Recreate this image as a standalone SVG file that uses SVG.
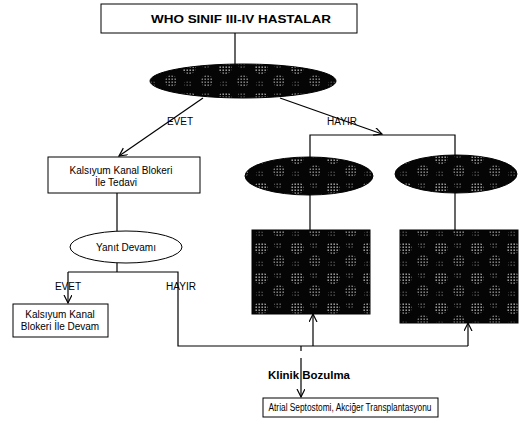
<svg xmlns="http://www.w3.org/2000/svg" width="523" height="440" viewBox="0 0 523 440">
<style>
.bx{fill:#fff;stroke:#000;stroke-width:1}
.ln{fill:none;stroke:#000;stroke-width:1.2}
.dk{fill:url(#blotch);stroke:#000;stroke-width:1}
text{font-family:"Liberation Sans",Arial,sans-serif;fill:#000}
.t{font-size:10px;text-anchor:middle}
.b{font-weight:bold;text-anchor:middle}
</style>
<defs>
<pattern id="dots" width="3" height="3" patternUnits="userSpaceOnUse">
<rect x="0.5" y="0.5" width="1.4" height="1.4" fill="#e6e6e6"/>
</pattern>
<pattern id="blotch" width="36" height="30" patternUnits="userSpaceOnUse">
<rect width="36" height="30" fill="#050505"/>
<ellipse cx="9" cy="8" rx="7" ry="6" fill="url(#dots)" opacity="0.8"/>
<ellipse cx="27" cy="21" rx="6" ry="6" fill="url(#dots)" opacity="0.65"/>
<ellipse cx="26" cy="5" rx="4" ry="3" fill="url(#dots)" opacity="0.45"/>
<ellipse cx="8" cy="24" rx="4" ry="3" fill="url(#dots)" opacity="0.35"/>
</pattern>
<marker id="ar" markerWidth="10" markerHeight="10" refX="8" refY="4" orient="auto" markerUnits="userSpaceOnUse">
<path d="M0,0 L8,4 L0,8" fill="none" stroke="#000" stroke-width="1.2"/>
</marker>
</defs>

<g id="connectors">
<line class="ln" x1="235" y1="33" x2="235" y2="64"/>
<line class="ln" x1="203" y1="98" x2="119" y2="156" marker-end="url(#ar)"/>
<line class="ln" x1="280" y1="98" x2="382" y2="134" marker-end="url(#ar)"/>
<polyline class="ln" points="310,158 310,135 455,135 455,156"/>
<line class="ln" x1="310" y1="195" x2="310" y2="230"/>
<line class="ln" x1="455" y1="193" x2="455" y2="230"/>
<line class="ln" x1="117" y1="193" x2="117" y2="231"/>
<line class="ln" x1="117" y1="263" x2="117" y2="272"/>
<polyline class="ln" points="68,272 178,272 178,346 468,346"/>
<line class="ln" x1="68" y1="272" x2="68" y2="303" marker-end="url(#ar)"/>
<line class="ln" x1="313" y1="346" x2="313" y2="314" marker-end="url(#ar)"/>
<line class="ln" x1="468" y1="346" x2="468" y2="323" marker-end="url(#ar)"/>
<line class="ln" x1="301" y1="346" x2="301" y2="351"/>
<line class="ln" x1="301" y1="358" x2="301" y2="397" marker-end="url(#ar)"/>
<text x="180" y="125" class="t" font-size="11">EVET</text>
<text x="342" y="125" class="t" font-size="11">HAYIR</text>
<text x="68" y="290" class="t" font-size="11">EVET</text>
<text x="181" y="290" class="t" font-size="11">HAYIR</text>
<text x="309" y="379" class="b" font-size="10" textLength="82" lengthAdjust="spacingAndGlyphs">Klinik Bozulma</text>
</g>

<g id="who">
<rect class="bx" x="101" y="4" width="256" height="29"/>
<text x="241" y="23" class="b" font-size="11" textLength="180" lengthAdjust="spacingAndGlyphs">WHO SINIF III-IV HASTALAR</text>
</g>

<g id="q1"><ellipse class="dk" cx="243" cy="81" rx="93" ry="17"/></g>
<g id="q2"><ellipse class="dk" cx="309" cy="176" rx="64" ry="19"/></g>
<g id="q3"><ellipse class="dk" cx="456" cy="174" rx="61" ry="19"/></g>
<g id="r2"><rect class="dk" x="252" y="230" width="118" height="84"/></g>
<g id="r3"><rect class="dk" x="400" y="230" width="118" height="93"/></g>

<g id="kkb">
<rect class="bx" x="48" y="157" width="152" height="36"/>
<text x="121" y="174" class="t">Kalsıyum Kanal Blokeri</text>
<text x="116" y="186" class="t">İle Tedavi</text>
</g>

<g id="yanit">
<ellipse class="bx" cx="126" cy="247" rx="56" ry="16"/>
<text x="126" y="251" class="t">Yanıt Devamı</text>
</g>

<g id="devam">
<rect class="bx" x="13" y="304" width="95" height="33"/>
<text x="60" y="318" class="t" font-size="9.5">Kalsıyum Kanal</text>
<text x="60" y="330" class="t" font-size="9.5">Blokeri İle Devam</text>
</g>

<g id="atrial">
<rect class="bx" x="263" y="398" width="175" height="19"/>
<text x="350" y="411" class="t" font-size="9" textLength="163" lengthAdjust="spacingAndGlyphs">Atrial Septostomi, Akciğer Transplantasyonu</text>
</g>
</svg>
